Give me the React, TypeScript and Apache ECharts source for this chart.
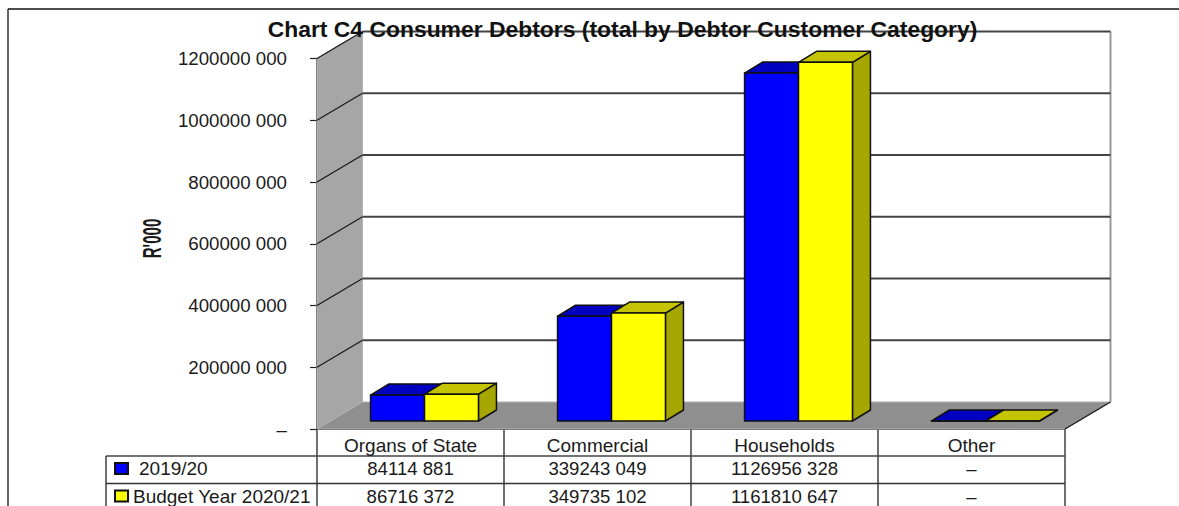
import React, { useEffect, useRef } from "react";
import * as echarts from "echarts";

const categories = ["Organs of State", "Commercial", "Households", "Other"];
const seriesNames = ["2019/20", "Budget Year 2020/21"];
const values2019 = [84114881, 339243049, 1126956328, 0];
const valuesBudget = [86716372, 349735102, 1161810647, 0];
const yTicks = [0, 200000000, 400000000, 600000000, 800000000, 1000000000, 1200000000];
const titleText = "Chart C4 Consumer Debtors (total by Debtor Customer Category)";
const yName = "R'000";

const FONT = '"Liberation Sans", Arial, sans-serif';
const G = { left: 317, right: 1065, top: 58.5, bottom: 429 };
const WALL = { dx: 45.5, dy: -27 };
const BAR = { offX: 14, offY: -8, dx: 18, dy: -11, share: 0.2885 };
const ROWS = [456, 483.5, 506];
const INK = "#1a1a1a";

function fmt(v: number): string {
  if (v === 0) return "\u2013";
  const s = String(v);
  return s.slice(0, -3) + " " + s.slice(-3);
}

function renderWalls(params: any, api: any) {
  const val = api.value(0);
  const y = api.coord([0, val])[1];
  const x0 = G.left;
  const x1 = G.right;
  const yb = y + WALL.dy;
  const children: any[] = [];
  if (params.dataIndex === 0) {
    const yTop = api.coord([0, yTicks[yTicks.length - 1]])[1];
    children.push(
      { type: "polygon", shape: { points: [[x0, yTop], [x0 + WALL.dx, yTop + WALL.dy], [x0 + WALL.dx, yb], [x0, y]] }, style: { fill: "#a6a6a6", stroke: "#b4b4b4", lineWidth: 1 } },
      { type: "polygon", shape: { points: [[x0, y], [x0 + WALL.dx, yb], [x1 + WALL.dx, yb], [x1, y]] }, style: { fill: "#8f8f8f", stroke: "#b0b0b0", lineWidth: 1 } },
      { type: "line", shape: { x1, y1: y, x2: x1 + WALL.dx, y2: yb }, style: { stroke: INK, lineWidth: 1.4 } },
      { type: "line", shape: { x1: x1 + WALL.dx, y1: yb, x2: x1 + WALL.dx, y2: yTop + WALL.dy }, style: { stroke: "#999999", lineWidth: 2 } }
    );
  } else {
    children.push(
      { type: "line", shape: { x1: x0, y1: y, x2: x0 + WALL.dx, y2: yb }, style: { stroke: "#1a1a1a", lineWidth: 1.3 } },
      { type: "line", shape: { x1: x0 + WALL.dx, y1: yb, x2: x1 + WALL.dx, y2: yb }, style: { stroke: "#444444", lineWidth: 2 } }
    );
  }
  return { type: "group", children };
}

function renderBar(slot: number, front: string, top: string, side: string) {
  return (_params: any, api: any) => {
    const [cx, y] = api.coord([api.value(0), api.value(1)]);
    const y0 = api.coord([api.value(0), 0])[1] + BAR.offY;
    const w = api.size([1, 0])[0] * BAR.share;
    const xa = cx + BAR.offX + (slot - 1) * w;
    const xb = xa + w;
    const yt = y + BAR.offY;
    const stroke = { stroke: "#111111", lineWidth: 1.5, lineJoin: "round" };
    const { dx, dy } = BAR;
    return {
      type: "group",
      children: [
        { type: "polygon", shape: { points: [[xb, y0], [xb + dx, y0 + dy], [xb + dx, yt + dy], [xb, yt]] }, style: { fill: side, ...stroke } },
        { type: "polygon", shape: { points: [[xa, yt], [xa + dx, yt + dy], [xb + dx, yt + dy], [xb, yt]] }, style: { fill: top, ...stroke } },
        { type: "polygon", shape: { points: [[xa, y0], [xa, yt], [xb, yt], [xb, y0]] }, style: { fill: front, ...stroke } },
      ],
    };
  };
}

function tableGraphics() {
  const els: any[] = [];
  const line = (x1: number, y1: number, x2: number, y2: number, stroke = "#222222", lineWidth = 1.3) =>
    els.push({ type: "line", silent: true, shape: { x1, y1, x2, y2 }, style: { stroke, lineWidth } });
  const colW = (G.right - G.left) / categories.length;
  for (let i = 0; i <= categories.length; i++) line(G.left + i * colW, G.bottom, G.left + i * colW, ROWS[2]);
  line(106, ROWS[0], G.right, ROWS[0], "#444444", 1.6);
  line(106, ROWS[1], G.right, ROWS[1], "#333333", 1.4);
  line(106, ROWS[0], 106, ROWS[2]);
  [values2019, valuesBudget].forEach((vals, r) => {
    vals.forEach((v, i) => {
      els.push({
        type: "text",
        silent: true,
        style: {
          x: G.left + (i + 0.5) * colW,
          y: r === 0 ? 468.5 : 496,
          text: fmt(v),
          font: `18.6px ${FONT}`,
          fill: "#1a1a1a",
          textAlign: "center",
          textVerticalAlign: "middle",
        },
      });
    });
  });
  line(8, 9, 1179, 9, "#111111", 1.3);
  line(8, 9, 8, 506, "#111111", 1.3);
  els.push({
    type: "text",
    silent: true,
    x: 152.5,
    y: 238.5,
    rotation: Math.PI / 2,
    scaleX: 0.58,
    scaleY: 1,
    style: { x: 0, y: 0, text: yName, font: `bold 26px ${FONT}`, fill: "#1a1a1a", textAlign: "center", textVerticalAlign: "middle" },
  });
  return els;
}

export default function App() {
  const ref = useRef<HTMLDivElement>(null);
  useEffect(() => {
    const chart = echarts.init(ref.current!, null, { renderer: "svg" });
    const legendBase = {
      orient: "horizontal",
      icon: "rect",
      itemWidth: 13,
      itemHeight: 11,
      padding: 0,
      selectedMode: false,
    };
    chart.setOption({
      animation: false,
      backgroundColor: "#ffffff",
      title: {
        text: titleText,
        left: 617.5,
        textAlign: "center",
        top: 12,
        textStyle: { fontFamily: FONT, fontSize: 22.9, fontWeight: "bold", color: "#111111" },
      },
      legend: [
        { ...legendBase, data: [seriesNames[0]], left: 114, top: 459, textStyle: { fontFamily: FONT, fontSize: 19, color: "#1a1a1a", padding: [0, 0, 0, 6] } },
        { ...legendBase, data: [seriesNames[1]], left: 114, top: 486.5, textStyle: { fontFamily: FONT, fontSize: 19, color: "#1a1a1a" } },
      ],
      grid: { left: G.left, top: G.top, width: G.right - G.left, height: G.bottom - G.top },
      xAxis: {
        type: "category",
        data: categories,
        axisTick: { show: false },
        axisLine: { show: true, lineStyle: { color: "#111111", width: 1.6 } },
        axisLabel: { margin: 7, fontFamily: FONT, fontSize: 19, color: "#1a1a1a" },
      },
      yAxis: {
        type: "value",
        min: 0,
        max: 1200000000,
        interval: 200000000,
        splitLine: { show: false },
        axisLine: { show: true, lineStyle: { color: "#222222", width: 1.6 } },
        axisTick: { show: true, length: 7, lineStyle: { color: "#222222", width: 1.2 } },
        axisLabel: {
          margin: 30,
          fontFamily: FONT,
          fontSize: 18.7,
          color: "#1a1a1a",
          formatter: (v: number) => fmt(v),
        },
      },
      graphic: tableGraphics(),
      series: [
        { type: "custom", name: "walls", silent: true, clip: false, z: 1, data: yTicks.map((t) => [t]), renderItem: renderWalls, encode: { y: 0 } },
        {
          type: "custom",
          name: seriesNames[0],
          clip: false,
          z: 2,
          itemStyle: { color: "#0000ff", borderColor: "#111111", borderWidth: 1.5 },
          data: values2019.map((v, i) => [i, v]),
          encode: { x: 0, y: 1 },
          renderItem: renderBar(0, "#0000ff", "#0000c0", "#0000a0"),
        },
        {
          type: "custom",
          name: seriesNames[1],
          clip: false,
          z: 3,
          itemStyle: { color: "#ffff00", borderColor: "#111111", borderWidth: 1.5 },
          data: valuesBudget.map((v, i) => [i, v]),
          encode: { x: 0, y: 1 },
          renderItem: renderBar(1, "#ffff00", "#c4c400", "#a6a600"),
        },
      ],
    });
    return () => chart.dispose();
  }, []);
  return <div ref={ref} style={{ position: "fixed", left: 0, top: 0, width: 1179, height: 506 }} />;
}
